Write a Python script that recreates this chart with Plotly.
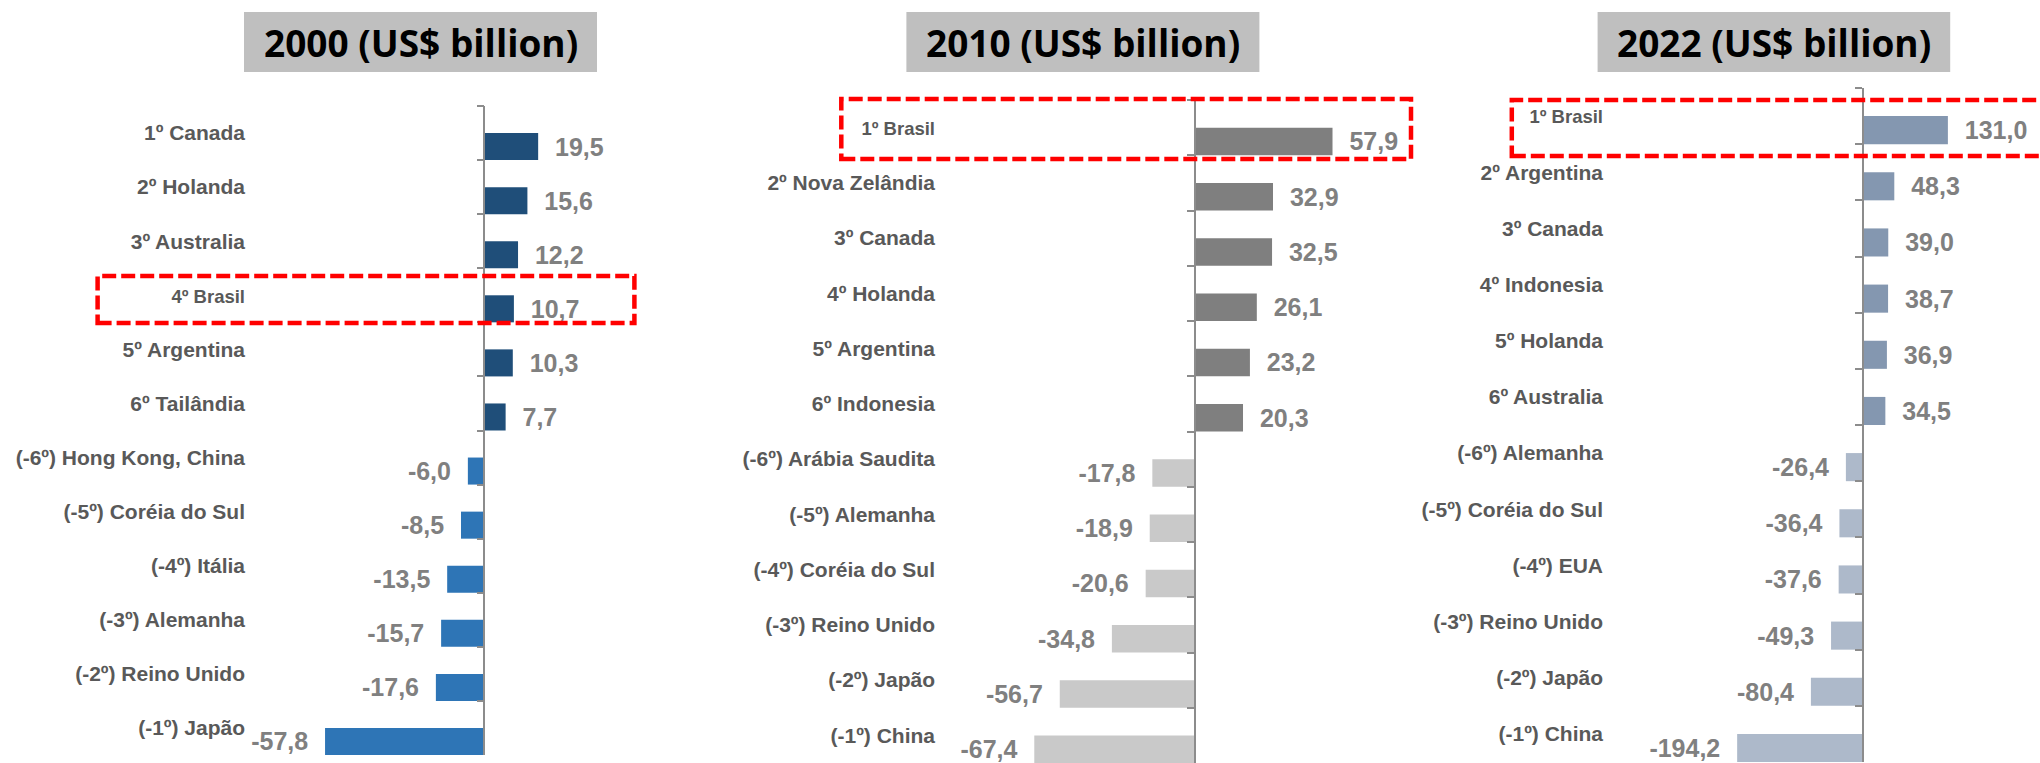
import plotly.graph_objects as go

# ---- data (US$ billion) ----
cats_2000 = ["1º Canada", "2º Holanda", "3º Australia", "4º Brasil", "5º Argentina", "6º Tailândia",
             "(-6º) Hong Kong, China", "(-5º) Coréia do Sul", "(-4º) Itália", "(-3º) Alemanha",
             "(-2º) Reino Unido", "(-1º) Japão"]
vals_2000 = [19.5, 15.6, 12.2, 10.7, 10.3, 7.7, -6.0, -8.5, -13.5, -15.7, -17.6, -57.8]

cats_2010 = ["1º Brasil", "2º Nova Zelândia", "3º Canada", "4º Holanda", "5º Argentina", "6º Indonesia",
             "(-6º) Arábia Saudita", "(-5º) Alemanha", "(-4º) Coréia do Sul", "(-3º) Reino Unido",
             "(-2º) Japão", "(-1º) China"]
vals_2010 = [57.9, 32.9, 32.5, 26.1, 23.2, 20.3, -17.8, -18.9, -20.6, -34.8, -56.7, -67.4]

cats_2022 = ["1º Brasil", "2º Argentina", "3º Canada", "4º Indonesia", "5º Holanda", "6º Australia",
             "(-6º) Alemanha", "(-5º) Coréia do Sul", "(-4º) EUA", "(-3º) Reino Unido",
             "(-2º) Japão", "(-1º) China"]
vals_2022 = [131.0, 48.3, 39.0, 38.7, 36.9, 34.5, -26.4, -36.4, -37.6, -49.3, -80.4, -194.2]

titles = ["2000 (US$ billion)", "2010 (US$ billion)", "2022 (US$ billion)"]

W, H = 2040, 763
NB = "\u00a0"
LABEL_FONT = "Liberation Sans, Arial, sans-serif"
TITLE_FONT = "Open Sans, Liberation Sans, sans-serif"

# layout of each panel in pixels: plot left/right, zero line x, top/bottom, x scale
panels = [
    dict(cats=cats_2000, vals=vals_2000, pos="#1F4E79", neg="#2E75B6",
         left=250, right=680, zero=484.4, scale=2.757, top=106, bottom=755,
         title_box=(244, 597), hl=(97.6, 634.4, 276, 323)),
    dict(cats=cats_2010, vals=vals_2010, pos="#7F7F7F", neg="#C9C9C9",
         left=940, right=1440, zero=1194.7, scale=2.38, top=100, bottom=763,
         title_box=(906.4, 1259.4), hl=(841.3, 1411, 99, 159)),
    dict(cats=cats_2022, vals=vals_2022, pos="#8497B0", neg="#ADB9CA",
         left=1608, right=2040, zero=1863, scale=0.648, top=88, bottom=762,
         title_box=(1597.6, 1950.2), hl=(1511.8, 2050, 100, 156)),
]


def fmt(v):
    s = f"{v:.1f}".replace(".", ",")
    return NB * 2 + s if v >= 0 else s + NB * 2


def px(x):
    return x / W


def py(y):
    return 1 - y / H


fig = go.Figure()
layout = dict(
    width=W, height=H, margin=dict(l=0, r=0, t=0, b=0),
    paper_bgcolor="white", plot_bgcolor="rgba(0,0,0,0)",
    showlegend=False, barmode="overlay", shapes=[], annotations=[],
)

for i, p in enumerate(panels):
    n = i + 1
    xa = "x" if n == 1 else f"x{n}"
    ya = "y" if n == 1 else f"y{n}"
    tick_n = n + 3
    ncat = len(p["cats"])

    # transparent copy of the bars on the zero-line axis, so that axis gets its categories
    fig.add_trace(go.Bar(
        x=p["vals"], y=p["cats"], orientation="h", xaxis=xa, yaxis=f"y{tick_n}",
        width=0.5, offset=0, marker=dict(color="rgba(0,0,0,0)", line=dict(width=0)),
        hoverinfo="skip",
    ))

    colors = [p["pos"] if v >= 0 else p["neg"] for v in p["vals"]]
    fig.add_trace(go.Bar(
        x=p["vals"], y=p["cats"], orientation="h", xaxis=xa, yaxis=ya,
        width=0.5, offset=0, marker=dict(color=colors, line=dict(width=0)),
        text=[fmt(v) for v in p["vals"]], textposition="outside",
        constraintext="none", cliponaxis=False,
        textfont=dict(family=LABEL_FONT, size=25, color="#808080", weight="bold"),
        hoverinfo="skip",
    ))

    xmin = -(p["zero"] - p["left"]) / p["scale"]
    xmax = (p["right"] - p["zero"]) / p["scale"]
    dom_y = [py(p["bottom"]), py(p["top"])]
    ticktext = [f"<span style='font-size:18.5px'>{c}</span>" if "Brasil" in c else c for c in p["cats"]]

    layout["xaxis" if n == 1 else f"xaxis{n}"] = dict(
        domain=[px(p["left"]), px(p["right"])], range=[xmin, xmax], anchor=ya,
        showgrid=False, zeroline=False, showticklabels=False, showline=False, ticks="",
    )
    layout["yaxis" if n == 1 else f"yaxis{n}"] = dict(
        domain=dom_y, anchor=xa, type="category", categoryorder="array",
        categoryarray=p["cats"], range=[ncat - 0.5, -0.5],
        tickvals=p["cats"], ticktext=ticktext,
        showgrid=False, zeroline=False, showline=False, ticks="", ticklabelstandoff=4,
        tickfont=dict(family=LABEL_FONT, size=21, color="#595959", weight="bold"),
    )
    # vertical axis line at zero with ticks between categories
    layout[f"yaxis{tick_n}"] = dict(
        domain=dom_y, overlaying=ya, anchor="free", position=px(p["zero"]), side="left",
        type="category", categoryorder="array", categoryarray=p["cats"],
        range=[ncat - 0.5, -0.5], tickson="boundaries", ticks="outside", ticklen=7,
        tickwidth=1.5, tickcolor="#8C8C8C", showline=True, linecolor="#8C8C8C", linewidth=1.5,
        showticklabels=False, showgrid=False, zeroline=False,
    )

    # title box
    x0, x1 = p["title_box"]
    layout["shapes"].append(dict(
        type="rect", xref="paper", yref="paper", x0=px(x0), x1=px(x1), y0=py(72), y1=py(12),
        fillcolor="#BFBFBF", line=dict(width=0), layer="below",
    ))
    layout["annotations"].append(dict(
        text=titles[i], xref="paper", yref="paper", x=px((x0 + x1) / 2), y=py(42),
        xanchor="center", yanchor="middle", showarrow=False,
        font=dict(family=TITLE_FONT, size=37, color="black", weight="bold"),
    ))

    # Brasil highlight
    hx0, hx1, hy0, hy1 = p["hl"]
    layout["shapes"].append(dict(
        type="rect", xref="paper", yref="paper", x0=px(hx0), x1=px(hx1), y0=py(hy1), y1=py(hy0),
        line=dict(color="#FF0000", width=4.5, dash="14px,5px"), fillcolor="rgba(0,0,0,0)",
        layer="above",
    ))

fig.update_layout(**layout)
fig.write_html("out.html")
